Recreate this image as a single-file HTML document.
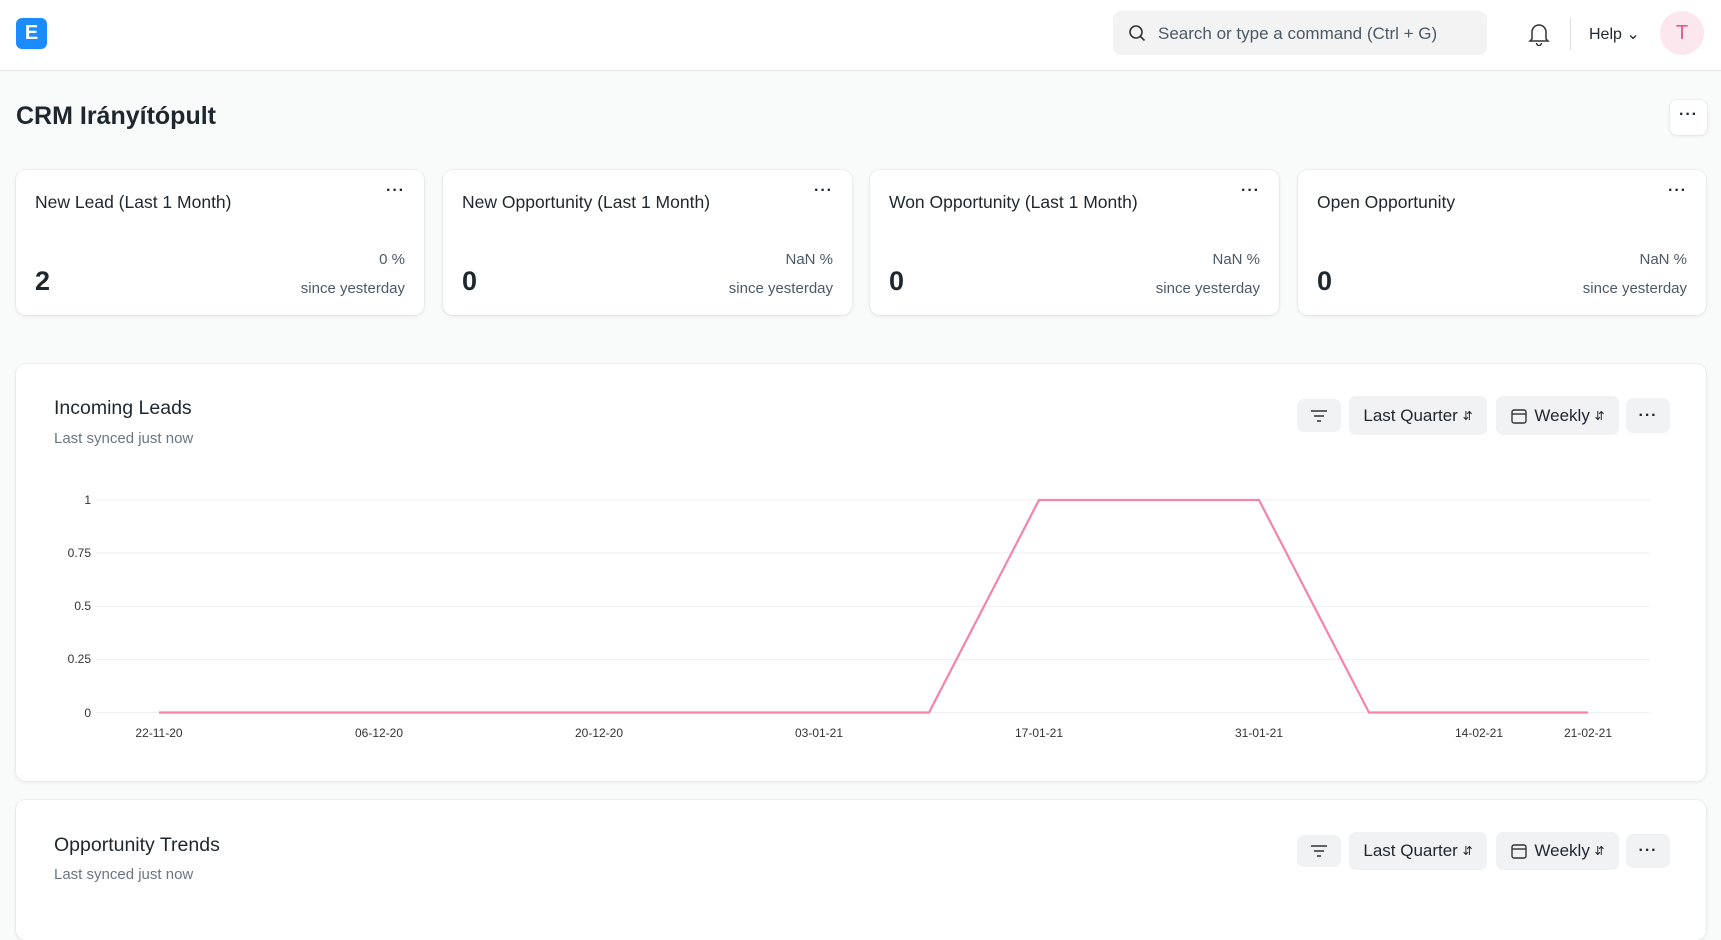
<!DOCTYPE html>
<html><head><meta charset="utf-8"><style>
*{box-sizing:border-box;margin:0;padding:0}
body{width:1721px;height:921px;overflow:hidden;background:#f9fafa;font-family:"Liberation Sans",sans-serif;color:#1f272e;position:relative}
.abs{position:absolute}
.nav{left:0;top:0;width:1721px;height:71px;background:#fff;border-bottom:1px solid #e2e6e9}
.card{background:#fff;border-radius:10px;box-shadow:0 0 0 1px rgba(0,0,0,.03),0 1px 4px rgba(0,0,0,.08)}
.ct{font-size:17.5px;color:#1f272e;left:19px;top:190px}
.btn{background:#f0f2f4;border-radius:7px;font-size:17px;color:#1f272e;display:flex;align-items:center;justify-content:center}
.dots{font-size:16px;font-weight:bold;letter-spacing:1px}
</style></head><body>
<div class="abs nav">
 <div class="abs" style="left:16px;top:18px;width:31px;height:31px;background:#1a8cff;border-radius:6px;color:#fff;font-weight:bold;font-size:20px;text-align:center;line-height:31px">E</div>
 <div class="abs" style="left:1113px;top:11px;width:374px;height:44px;background:#f3f3f3;border-radius:8px;font-size:17px;color:#4c5a67;padding:13px 0 0 45px">Search or type a command (Ctrl + G)
  <svg class="abs" style="left:15px;top:13px" width="18" height="18" viewBox="0 0 18 18"><circle cx="8" cy="8" r="6" fill="none" stroke="#333" stroke-width="1.6"/><line x1="12.5" y1="12.5" x2="16.5" y2="16.5" stroke="#333" stroke-width="1.6"/></svg>
 </div>
 <svg class="abs" style="left:1528px;top:22px" width="22" height="24" viewBox="0 0 22 24"><path d="M4 17V10a7 7 0 0 1 14 0v7l2 2H2z M8.5 21a2.5 2.5 0 0 0 5 0" fill="none" stroke="#333" stroke-width="1.5"/></svg>
 <div class="abs" style="left:1570px;top:18px;width:1px;height:32px;background:#dde"></div>
 <div class="abs" style="left:1589px;top:24px;font-size:16px">Help &#8964;</div>
 <div class="abs" style="left:1660px;top:11px;width:44px;height:44px;border-radius:50%;background:#fce7ee;color:#e8588a;font-size:20px;text-align:center;line-height:44px">T</div>
</div>
<div class="abs" style="left:16px;top:102px;font-size:25px;font-weight:bold">CRM Irányítópult</div>
<div class="abs card" style="left:1670px;top:100px;width:37px;height:35px;border-radius:7px;text-align:center;line-height:30px" ><span class="dots">···</span></div>

<div class="abs card" style="left:16px;top:170px;width:408px;height:145px">
 <div class="abs" style="left:19px;top:22px;font-size:17.5px">New Lead (Last 1 Month)</div>
 <div class="abs dots" style="right:19px;top:12px">···</div>
 <div class="abs" style="left:19px;top:96px;font-size:27px;font-weight:bold">2</div>
 <div class="abs" style="right:19px;top:81px;font-size:15px;color:#4c5a67">0 %</div>
 <div class="abs" style="right:19px;top:110px;font-size:15px;color:#4c5a67">since yesterday</div>
</div>
<div class="abs card" style="left:443px;top:170px;width:409px;height:145px">
 <div class="abs" style="left:19px;top:22px;font-size:17.5px">New Opportunity (Last 1 Month)</div>
 <div class="abs dots" style="right:19px;top:12px">···</div>
 <div class="abs" style="left:19px;top:96px;font-size:27px;font-weight:bold">0</div>
 <div class="abs" style="right:19px;top:81px;font-size:15px;color:#4c5a67">NaN %</div>
 <div class="abs" style="right:19px;top:110px;font-size:15px;color:#4c5a67">since yesterday</div>
</div>
<div class="abs card" style="left:870px;top:170px;width:409px;height:145px">
 <div class="abs" style="left:19px;top:22px;font-size:17.5px">Won Opportunity (Last 1 Month)</div>
 <div class="abs dots" style="right:19px;top:12px">···</div>
 <div class="abs" style="left:19px;top:96px;font-size:27px;font-weight:bold">0</div>
 <div class="abs" style="right:19px;top:81px;font-size:15px;color:#4c5a67">NaN %</div>
 <div class="abs" style="right:19px;top:110px;font-size:15px;color:#4c5a67">since yesterday</div>
</div>
<div class="abs card" style="left:1298px;top:170px;width:408px;height:145px">
 <div class="abs" style="left:19px;top:22px;font-size:17.5px">Open Opportunity</div>
 <div class="abs dots" style="right:19px;top:12px">···</div>
 <div class="abs" style="left:19px;top:96px;font-size:27px;font-weight:bold">0</div>
 <div class="abs" style="right:19px;top:81px;font-size:15px;color:#4c5a67">NaN %</div>
 <div class="abs" style="right:19px;top:110px;font-size:15px;color:#4c5a67">since yesterday</div>
</div>

<div class="abs card" style="left:16px;top:364px;width:1690px;height:417px"></div>
<div class="abs" style="left:54px;top:397px;font-size:19.5px">Incoming Leads</div>
<div class="abs" style="left:54px;top:430px;font-size:15px;color:#6c7680">Last synced just now</div>
<div class="abs btn" style="left:1297px;top:399px;width:44px;height:33px"><svg width="18" height="14"><path d="M1 2h16M4 7h10M7 12h4" stroke="#333" stroke-width="1.5"/></svg></div>
<div class="abs btn" style="left:1349px;top:396px;width:138px;height:39px">Last Quarter&nbsp;<span style="font-size:12px">&#8693;</span></div>
<div class="abs btn" style="left:1496px;top:396px;width:123px;height:39px"><svg width="18" height="18" style="margin-right:6px"><rect x="2" y="3" width="14" height="13" rx="2" fill="none" stroke="#333" stroke-width="1.4"/><line x1="2" y1="7" x2="16" y2="7" stroke="#333" stroke-width="1.4"/></svg>Weekly&nbsp;<span style="font-size:12px">&#8693;</span></div>
<div class="abs btn dots" style="left:1626px;top:398px;width:44px;height:35px">···</div>

<svg class="abs" style="left:0;top:0" width="1721" height="921">
 <g stroke="#eef0f2" stroke-width="1">
  <line x1="96" y1="500" x2="1650" y2="500"/><line x1="96" y1="553" x2="1650" y2="553"/><line x1="96" y1="606.5" x2="1650" y2="606.5"/><line x1="96" y1="659.5" x2="1650" y2="659.5"/><line x1="96" y1="712.5" x2="1650" y2="712.5"/>
 </g>
 <g font-size="12" fill="#333" text-anchor="end" font-family="Liberation Sans">
  <text x="91" y="504">1</text><text x="91" y="557">0.75</text><text x="91" y="610">0.5</text><text x="91" y="663">0.25</text><text x="91" y="717">0</text>
 </g>
 <g font-size="12" fill="#333" text-anchor="middle" font-family="Liberation Sans">
  <text x="159" y="737">22-11-20</text><text x="379" y="737">06-12-20</text><text x="599" y="737">20-12-20</text><text x="819" y="737">03-01-21</text><text x="1039" y="737">17-01-21</text><text x="1259" y="737">31-01-21</text><text x="1479" y="737">14-02-21</text><text x="1588" y="737">21-02-21</text>
 </g>
 <polyline fill="none" stroke="#f683ae" stroke-width="2.2" points="159,712.5 269,712.5 379,712.5 489,712.5 599,712.5 709,712.5 819,712.5 929,712.5 1039,500 1149,500 1259,500 1369,712.5 1479,712.5 1588,712.5"/>
</svg>

<div class="abs card" style="left:16px;top:800px;width:1690px;height:140px"></div>
<div class="abs" style="left:54px;top:834px;font-size:19.5px">Opportunity Trends</div>
<div class="abs" style="left:54px;top:866px;font-size:15px;color:#6c7680">Last synced just now</div>
<div class="abs btn" style="left:1297px;top:835px;width:44px;height:32px"><svg width="18" height="14"><path d="M1 2h16M4 7h10M7 12h4" stroke="#333" stroke-width="1.5"/></svg></div>
<div class="abs btn" style="left:1349px;top:832px;width:138px;height:38px">Last Quarter&nbsp;<span style="font-size:12px">&#8693;</span></div>
<div class="abs btn" style="left:1496px;top:832px;width:123px;height:38px"><svg width="18" height="18" style="margin-right:6px"><rect x="2" y="3" width="14" height="13" rx="2" fill="none" stroke="#333" stroke-width="1.4"/><line x1="2" y1="7" x2="16" y2="7" stroke="#333" stroke-width="1.4"/></svg>Weekly&nbsp;<span style="font-size:12px">&#8693;</span></div>
<div class="abs btn dots" style="left:1626px;top:834px;width:44px;height:34px">···</div>
</body></html>
